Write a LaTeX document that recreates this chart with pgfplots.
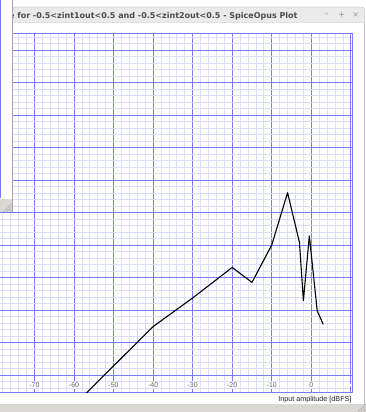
\documentclass[border=0pt]{standalone}
\usepackage{fontspec}
\setmainfont{Liberation Sans}
\newfontfamily\dejavu{DejaVu Sans}
\usepackage{pgfplots}
\pgfplotsset{compat=1.18}
\definecolor{majgrid}{RGB}{122,122,248}
\definecolor{mingrid}{RGB}{220,220,252}
\definecolor{tbar}{RGB}{234,234,234}
\definecolor{gtkgray}{RGB}{218,216,212}
\begin{document}
\begin{tikzpicture}[x=1pt,y=1pt]
\useasboundingbox (0,0) rectangle (366,412);
\clip (0,0) rectangle (366,412);
\fill[white] (0,0) rectangle (366,412);
\begin{axis}[
  at={(-5.1pt,20pt)}, anchor=south west,
  scale only axis, width=357.1pt, height=358.7pt,
  xmin=-80, xmax=10.29, ymin=-0.523, ymax=10.514,
  xtick={-70,-60,...,0},
  xticklabels={-70,-60,-50,-40,-30,-20,-10,0},
  extra x ticks={-80,10}, extra x tick labels={},
  extra x tick style={grid=major, major grid style={majgrid, line width=0.9pt}},
  ytick={0,1,2,3,4,5,6,7,8,9,10}, yticklabels={},
  minor xtick={-78,-76,-74,-72,-68,-66,-64,-62,-58,-56,-54,-52,-48,-46,-44,-42,-38,-36,-34,-32,-28,-26,-24,-22,-18,-16,-14,-12,-8,-6,-4,-2,2,4,6,8},
  minor ytick={-0.4,-0.2,0.2,0.4,0.6,0.8,1.2,1.4,1.6,1.8,2.2,2.4,2.6,2.8,3.2,3.4,3.6,3.8,4.2,4.4,4.6,4.8,5.2,5.4,5.6,5.8,6.2,6.4,6.6,6.8,7.2,7.4,7.6,7.8,8.2,8.4,8.6,8.8,9.2,9.4,9.6,9.8,10.2,10.4},
  grid=both,
  grid style={mingrid},
  major grid style={majgrid, line width=0.9pt},
  minor grid style={mingrid, line width=0.8pt},
  axis line style={majgrid, line width=1pt},
  tick style={draw=none},
  xticklabel style={anchor=center, yshift=7pt, fill=white, inner sep=0.6pt, font=\fontsize{7}{8}\selectfont, text=black!60},
]
\addplot[black, line width=1.1pt, line join=round] coordinates {
(-60,-0.93) (-40,1.49) (-30,2.37) (-20,3.31) (-15,2.85) (-10,4.0) (-6,5.61)
(-3,4.08) (-2,2.29) (-0.5,4.28) (1.5,1.97) (3,1.56)
};
\end{axis}
% title bar
\filldraw[fill=tbar, draw=black!28] (12.5,389.5) [rounded corners=3pt] -- (12.5,405) -- (364.5,405) [sharp corners] -- (364.5,389.5) -- cycle;
\node[anchor=base east, inner sep=0, text=black!70, font=\dejavu\bfseries\fontsize{8}{9}\selectfont] at (297.7,393.5) {e for -0.5<zint1out<0.5 and -0.5<zint2out<0.5 - SpiceOpus Plot};
\node[text=black!40, font=\dejavu\fontsize{8}{9}\selectfont, inner sep=0] at (326.7,397) {–};
\node[text=black!40, font=\dejavu\fontsize{8}{9}\selectfont, inner sep=0] at (341.7,397) {+};
\node[text=black!40, font=\dejavu\fontsize{8}{9}\selectfont, inner sep=0] at (355.7,397) {×};
% right frame
\draw[black!25] (364.5,8) -- (364.5,389.5);
% bottom strip
\fill[gtkgray] (0,0) rectangle (366,8);
\foreach \d in {2,5,8} {\draw[black!35, line width=0.6pt] (366-\d,0.5) -- (365.5,\d);}
% axis label
\node[anchor=base east, inner sep=0, text=black!85, font=\fontsize{7.2}{8}\selectfont] at (351.7,10.5) {Input amplitude [dBFS]};
% left overlapping window
\fill[white] (0,200) rectangle (12.5,412);
\fill[gtkgray] (0,200) rectangle (12.5,213);
\foreach \d in {2,5,8} {\draw[black!35, line width=0.6pt] (12-\d,200.5) -- (11.5,200+\d);}
\draw[black!35] (12.5,200) -- (12.5,412);
\draw[majgrid, line width=1.2pt] (0.6,214) -- (0.6,412);
\end{tikzpicture}
\end{document}
